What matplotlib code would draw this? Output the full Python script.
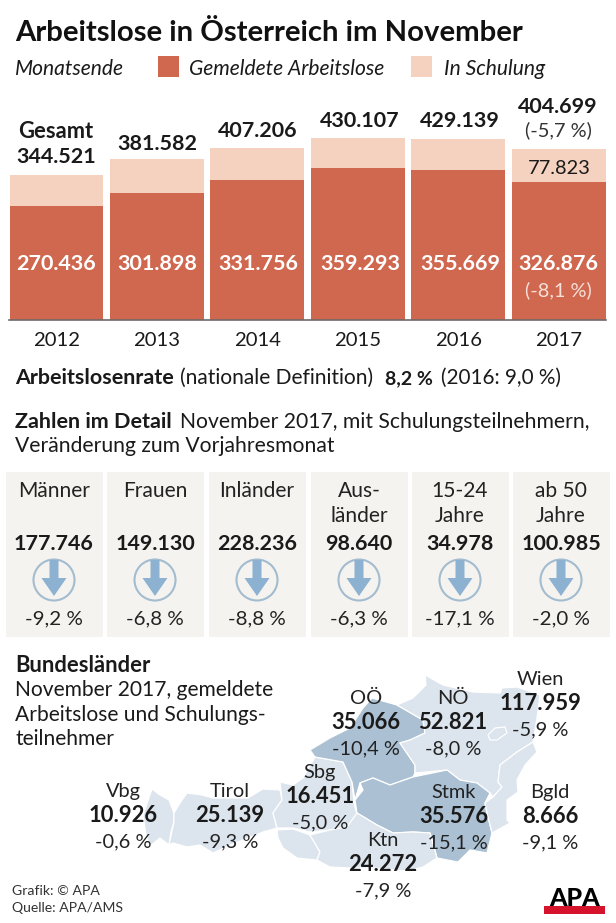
import matplotlib
matplotlib.use("Agg")
import matplotlib.pyplot as plt
from matplotlib.patches import Rectangle, Polygon, Circle

plt.rcParams['font.family'] = ['Lato', 'DejaVu Sans']

years = ['2012', '2013', '2014', '2015', '2016', '2017']
gemeldet = [270436, 301898, 331756, 359293, 355669, 326876]
schulung = [74085, 79684, 75450, 70814, 73470, 77823]
gesamt = [344521, 381582, 407206, 430107, 429139, 404699]

card_labels = [['Männer'], ['Frauen'], ['Inländer'], ['Aus-', 'länder'], ['15-24', 'Jahre'], ['ab 50', 'Jahre']]
card_values = ['177.746', '149.130', '228.236', '98.640', '34.978', '100.985']
card_changes = ['-9,2 %', '-6,8 %', '-8,8 %', '-6,3 %', '-17,1 %', '-2,0 %']

states = ['Wien', 'OÖ', 'NÖ', 'Sbg', 'Vbg', 'Tirol', 'Stmk', 'Bgld', 'Ktn']
state_values = ['117.959', '35.066', '52.821', '16.451', '10.926', '25.139', '35.576', '8.666', '24.272']
state_changes = ['-5,9 %', '-10,4 %', '-8,0 %', '-5,0 %', '-0,6 %', '-9,3 %', '-15,1 %', '-9,1 %', '-7,9 %']

def de(n):
    return f'{n:,}'.replace(',', '.')

W, H = 616, 923
RED, PEACH, INK = '#d0674f', '#f4d2bf', '#1a1a1a'
fig = plt.figure(figsize=(W / 100, H / 100), dpi=100, facecolor='white')

ov = fig.add_axes([0, 0, 1, 1], zorder=3)
ov.set_xlim(0, W); ov.set_ylim(H, 0); ov.axis('off'); ov.patch.set_alpha(0)
under = fig.add_axes([0, 0, 1, 1], zorder=1)
under.set_xlim(0, W); under.set_ylim(H, 0); under.axis('off')

def T(x, y, s, px, weight='normal', ha='left', color=INK, style='normal'):
    ov.text(x, y, s, fontsize=px * 0.72, fontweight=weight, ha=ha, va='baseline', color=color, style=style)

# bar chart
px_per = 1 / 2368.0
left, right, base, top = 9.5, 605.7, 320, 100
ax = fig.add_axes([left / W, 1 - base / H, (right - left) / W, (base - top) / H], zorder=2)
ax.patch.set_alpha(0)
ax.set_xlim(-0.4677, 5.4677)
ax.set_ylim(0, (base - top) / px_per)
xs = range(len(years))
ax.bar(xs, gemeldet, width=0.935, color=RED)
ax.bar(xs, schulung, width=0.935, bottom=gemeldet, color=PEACH)
for s in ['top', 'left', 'right']:
    ax.spines[s].set_visible(False)
ax.spines['bottom'].set_color('#6f6a68'); ax.spines['bottom'].set_linewidth(1.2)
ax.set_yticks([])
ax.set_xticks(list(xs), years, fontsize=14.6, color=INK)
ax.tick_params(axis='x', length=0, pad=9)

T(15, 41, 'Arbeitslose in Österreich im November', 29.3, 'bold', color='#111111')
T(15, 75, 'Monatsende', 21, style='italic')
under.add_patch(Rectangle((158, 56), 21, 21, color=RED, lw=0))
T(189, 75, 'Gemeldete Arbeitslose', 21, style='italic')
under.add_patch(Rectangle((411, 56), 21, 21, color=PEACH, lw=0))
T(444, 75, 'In Schulung', 21, style='italic')

centers = [56, 157, 258, 360, 460, 558]
tops = [163, 150, 137, 127, 127, 113]
T(56, 138, 'Gesamt', 22, 'bold', 'center')
for c, t, v, g in zip(centers, tops, gesamt, gemeldet):
    T(c, t, de(v), 21.5, 'bold', 'center')
    T(c, 270, de(g), 21.5, 'bold', 'center', 'white')
T(558, 136, '(-5,7 %)', 20, ha='center', color='#333333')
T(559, 174, de(schulung[-1]), 20, ha='center')
T(558, 296, '(-8,1 %)', 20, ha='center', color='#f6e0d8')

rate_parts = [('Arbeitslosenrate', 'bold', 15, 21.5), ('(nationale Definition)', 'normal', 180, 21),
              ('8,2 %', 'bold', 385, 19.5), ('(2016: 9,0 %)', 'normal', 441, 20.7)]
for s, w, x, px in rate_parts:
    T(x, 384, s, px, w)
T(15, 428, 'Zahlen im Detail', 21.5, 'bold')
T(180, 428, 'November 2017, mit Schulungsteilnehmern,', 21.2)
T(15, 452, 'Veränderung zum Vorjahresmonat', 21.2)

# cards
card_left = [6, 107, 209, 311, 412, 513]
for x0, lab, val, chg in zip(card_left, card_labels, card_values, card_changes):
    under.add_patch(Rectangle((x0, 472), 96.5, 165, color='#f5f3ef', lw=0))
    c = x0 + 48
    for i, l in enumerate(lab):
        T(c, 497 + 25 * i, l, 21, ha='center', color='#222222')
    T(c, 550, val, 21.5, 'bold', 'center')
    T(c, 624, chg, 20.5, ha='center', color='#222222')
    ov.add_patch(Circle((c, 580), 20.5, fc='none', ec='#a3bccf', lw=1.5))
    ov.add_patch(Polygon([(c - 4.5, 560), (c + 4.5, 560), (c + 4.5, 578), (c + 12.5, 578),
                          (c, 596), (c - 12.5, 578), (c - 4.5, 578)], fc='#8cb1d1', lw=0))

T(15, 672, 'Bundesländer', 22, 'bold')
T(15, 696, 'November 2017, gemeldete', 21)
T(15, 721, 'Arbeitslose und Schulungs-', 21)
T(15, 745, 'teilnehmer', 21)

# map outline geometry (region shapes, image pixels)
LIGHT, DARK = '#dce4ed', '#abc0d3'
regions = {
 'Vbg': [(152, 789), (160, 795), (169, 800), (174, 813), (174, 822), (171, 832), (169, 845), (160, 838), (150, 846), (146, 835), (143, 815)],
 'Tirol': [(169, 845), (174, 822), (174, 813), (180, 803), (187, 793), (202, 795), (213, 798), (248, 798), (263, 789), (280, 790), (282, 800), (273, 813), (277, 828), (263, 832), (243, 840), (230, 845), (213, 853), (200, 845), (187, 847), (173, 843)],
 'Ost': [(277, 830), (293, 829), (310, 835), (320, 852), (317, 860), (297, 858), (283, 848), (278, 838)],
 'Sbg': [(273, 813), (282, 800), (280, 782), (293, 785), (303, 778), (315, 757), (343, 762), (352, 782), (354, 803), (357, 815), (347, 827), (330, 830), (310, 832), (293, 828), (277, 828)],
 'OOE': [(363, 708), (372, 698), (397, 705), (423, 720), (425, 733), (410, 740), (400, 743), (415, 765), (415, 773), (413, 777), (390, 785), (373, 778), (360, 783), (355, 800), (352, 782), (343, 762), (315, 757), (310, 750), (330, 738), (350, 728)],
 'NOE': [(425, 675), (443, 685), (473, 692), (500, 693), (502, 688), (517, 687), (540, 695), (537, 718), (533, 742), (517, 752), (500, 765), (498, 782), (502, 787), (493, 797), (490, 793), (477, 783), (460, 780), (447, 770), (415, 773), (415, 765), (400, 743), (410, 740), (425, 733), (423, 720), (397, 705), (413, 698), (426, 685)],
 'Stmk': [(363, 790), (360, 783), (373, 778), (390, 785), (413, 777), (447, 770), (460, 780), (477, 783), (490, 793), (485, 803), (487, 813), (492, 833), (487, 853), (470, 850), (458, 862), (437, 858), (430, 833), (413, 832), (393, 833), (377, 825), (357, 813), (355, 800)],
 'Bgld': [(533, 742), (537, 752), (525, 765), (517, 780), (518, 792), (507, 800), (507, 820), (510, 823), (492, 833), (487, 813), (485, 803), (493, 797), (502, 787), (498, 782), (500, 765), (517, 752)],
 'Ktn': [(310, 835), (330, 830), (347, 827), (357, 813), (377, 825), (393, 833), (413, 832), (430, 833), (437, 858), (423, 867), (407, 871), (373, 868), (350, 868), (330, 867), (317, 860), (320, 852)],
 'Wien': [(488, 735), (495, 728), (505, 727), (507, 733), (497, 740), (490, 740)],
}
for name, pts in regions.items():
    fc = DARK if name in ('OOE', 'Stmk') else LIGHT
    under.add_patch(Polygon(pts, fc=fc, ec='white', lw=0.9, joinstyle='round'))

label_pos = {'Wien': (540, 685), 'OÖ': (366, 704), 'NÖ': (453, 704), 'Sbg': (320, 778), 'Vbg': (123, 797),
             'Tirol': (230, 797), 'Stmk': (454, 798), 'Bgld': (550, 798), 'Ktn': (383, 846)}
for st, val, chg in zip(states, state_values, state_changes):
    c, y = label_pos[st]
    T(c, y, st, 20, ha='center', color='#222222')
    T(c, y + 25, val, 22, 'bold', 'center')
    T(c, y + 50, chg, 20, ha='center', color='#222222')

T(12, 895, 'Grafik: © APA', 14, color='#333333')
T(12, 912, 'Quelle: APA/AMS', 14, color='#333333')
T(575, 906, 'APA', 25, 'black', 'center', 'black')
under.add_patch(Rectangle((544, 906), 61, 8, color='#d5142b', lw=0))

fig.savefig('out.png', dpi=100)
